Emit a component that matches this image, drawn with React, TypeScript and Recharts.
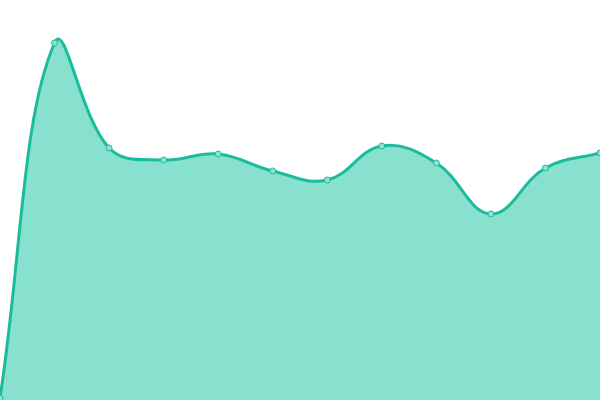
import { AreaChart, Area, XAxis, YAxis } from "recharts";

const labels = ["1", "2", "3", "4", "5", "6", "7", "8", "9", "10", "11", "12"];
const values = [2, 357, 252, 240, 246, 229, 220, 254, 237, 186, 232, 247];

const data = labels.map((name, i) => ({ name, value: values[i] }));

// spline like Chart.js (tension 0.4), as a d3-style curve factory
const TENSION = 0.4;

class SplineCurve {
  _context: any;
  _line = NaN;
  _pts: number[][] = [];
  constructor(context: any) {
    this._context = context;
  }
  areaStart() {
    this._line = 0;
  }
  areaEnd() {
    this._line = NaN;
  }
  lineStart() {
    this._pts = [];
  }
  point(x: number, y: number) {
    this._pts.push([+x, +y]);
  }
  lineEnd() {
    const p = this._pts;
    const n = p.length;
    const ctx = this._context;
    if (n) {
      if (this._line) ctx.lineTo(p[0][0], p[0][1]);
      else ctx.moveTo(p[0][0], p[0][1]);
      const ctrl = p.map((cur, i) => {
        const prev = p[Math.max(i - 1, 0)];
        const next = p[Math.min(i + 1, n - 1)];
        const d01 = Math.hypot(cur[0] - prev[0], cur[1] - prev[1]);
        const d12 = Math.hypot(next[0] - cur[0], next[1] - cur[1]);
        let s01 = d01 / (d01 + d12);
        let s12 = d12 / (d01 + d12);
        if (isNaN(s01)) s01 = 0;
        if (isNaN(s12)) s12 = 0;
        const fa = TENSION * s01;
        const fb = TENSION * s12;
        return {
          px: cur[0] - fa * (next[0] - prev[0]),
          py: cur[1] - fa * (next[1] - prev[1]),
          nx: cur[0] + fb * (next[0] - prev[0]),
          ny: cur[1] + fb * (next[1] - prev[1]),
        };
      });
      for (let i = 1; i < n; i++) {
        ctx.bezierCurveTo(ctrl[i - 1].nx, ctrl[i - 1].ny, ctrl[i].px, ctrl[i].py, p[i][0], p[i][1]);
      }
    }
    if (this._line || (this._line !== 0 && n === 1)) ctx.closePath();
    this._line = 1 - this._line;
  }
}

const splineCurve = (context: any) => new SplineCurve(context);

const App = () => {
  return (
    <div style={{ position: "absolute", top: 0, left: 0, width: 600, height: 400, background: "#fff" }}>
      <AreaChart width={600} height={400} data={data} margin={{ top: 0, right: 0, left: 0, bottom: 0 }}>
        <XAxis dataKey="name" hide />
        <YAxis hide domain={[0, 400]} />
        <Area
          type={splineCurve as any}
          dataKey="value"
          stroke="#1abc9c"
          strokeWidth={3}
          fill="#88e0cf"
          fillOpacity={1}
          dot={{ r: 3, fill: "#8fe2d1", stroke: "#1abc9c", strokeWidth: 1 }}
          activeDot={false}
          isAnimationActive={false}
        />
      </AreaChart>
    </div>
  );
};

export default App;
